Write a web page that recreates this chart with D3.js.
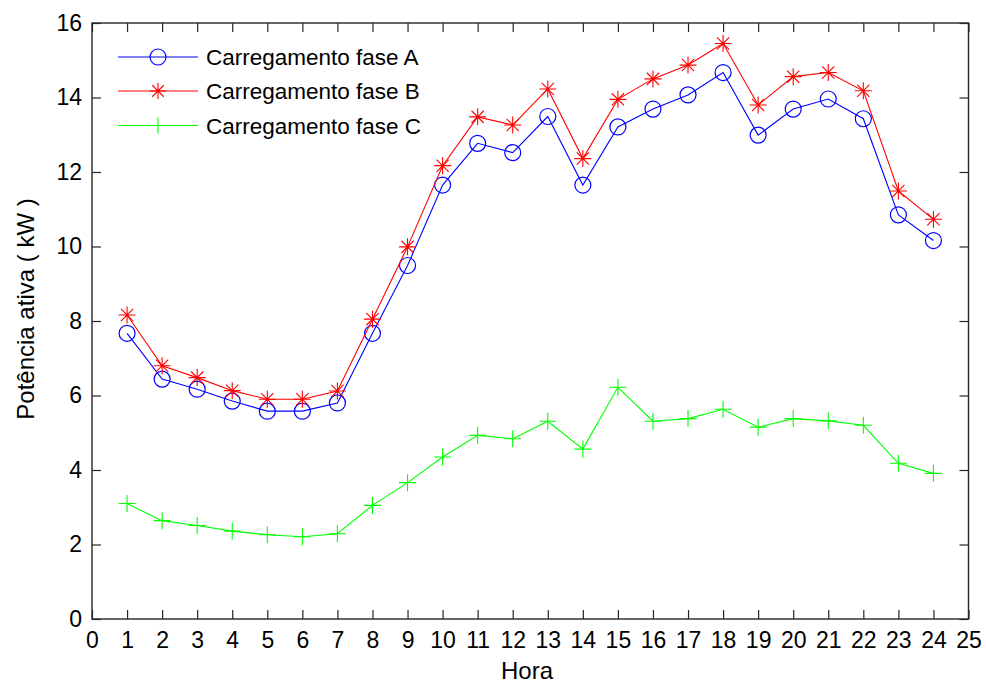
<!DOCTYPE html>
<html>
<head>
<meta charset="utf-8">
<script src="https://cdn.jsdelivr.net/npm/d3@7"></script>
<style>
  html, body { margin: 0; padding: 0; background: #fff; }
  text { font-family: "Liberation Sans", Arial, sans-serif; fill: #000; }
</style>
</head>
<body>
<svg id="chart" width="986" height="684"></svg>
<script>
const hours = [1,2,3,4,5,6,7,8,9,10,11,12,13,14,15,16,17,18,19,20,21,22,23,24];
const faseA = [7.67,6.44,6.17,5.85,5.58,5.58,5.80,7.67,9.49,11.65,12.77,12.52,13.49,11.65,13.21,13.69,14.07,14.67,12.99,13.69,13.96,13.43,10.85,10.16];
const faseB = [8.16,6.80,6.48,6.13,5.90,5.90,6.12,8.05,9.99,12.17,13.48,13.26,14.23,12.36,13.95,14.50,14.87,15.45,13.80,14.56,14.67,14.18,11.49,10.73];
const faseC = [3.10,2.64,2.51,2.36,2.26,2.21,2.29,3.05,3.66,4.35,4.93,4.84,5.31,4.56,6.22,5.31,5.38,5.63,5.15,5.38,5.32,5.20,4.18,3.91];
const xTicks = d3.range(0, 26);
const yTicks = [0,2,4,6,8,10,12,14,16];
const seriesNames = ["Carregamento fase A", "Carregamento fase B", "Carregamento fase C"];
const xLabel = "Hora";
const yLabel = "Potência ativa ( kW )";

const series = [
  { name: seriesNames[0], values: faseA, color: "#0000ff", marker: "circle" },
  { name: seriesNames[1], values: faseB, color: "#ff0000", marker: "star" },
  { name: seriesNames[2], values: faseC, color: "#00ff00", marker: "plus" }
];

const svg = d3.select("#chart");
const L = 92, R = 968.5, T = 23, B = 619;
const x = d3.scaleLinear().domain([0, 25]).range([L, R]);
const y = d3.scaleLinear().domain([0, 16]).range([B, T]);

const line = d3.line().x((d, i) => x(hours[i])).y(d => y(d));
function drawMarker(g, type, cx, cy, color, s) {
  if (type === "circle") {
    g.append("circle").attr("cx", cx).attr("cy", cy).attr("r", s)
      .attr("fill", "none").attr("stroke", color).attr("stroke-width", 1.2);
  } else if (type === "star") {
    const a = s, dd = s * 0.72;
    g.append("path").attr("fill", "none").attr("stroke", color).attr("stroke-width", 1.1)
      .attr("d", `M${cx - a},${cy}H${cx + a}M${cx},${cy - a}V${cy + a}` +
        `M${cx - dd},${cy - dd}L${cx + dd},${cy + dd}M${cx - dd},${cy + dd}L${cx + dd},${cy - dd}`);
  } else {
    g.append("path").attr("fill", "none").attr("stroke", color).attr("stroke-width", 1.1)
      .attr("d", `M${cx - s},${cy}H${cx + s}M${cx},${cy - s}V${cy + s}`);
  }
}

const plot = svg.append("g");
series.forEach(s => {
  plot.append("path").datum(s.values).attr("d", line)
    .attr("fill", "none").attr("stroke", s.color).attr("stroke-width", 1.1);
  const mg = plot.append("g");
  s.values.forEach((v, i) => drawMarker(mg, s.marker, x(hours[i]), y(v), s.color, s.marker === "circle" ? 8 : 8.5));
});

const axisColor = "#262626";
svg.append("rect").attr("x", L).attr("y", T).attr("width", R - L).attr("height", B - T)
  .attr("fill", "none").attr("stroke", axisColor).attr("stroke-width", 1.4);

const tl = 9;
const axB = d3.axisBottom(x).tickValues(xTicks).tickSizeInner(-tl).tickSizeOuter(0).tickPadding(13).tickFormat(d3.format("d"));
const gb = svg.append("g").attr("transform", `translate(0,${B})`).call(axB);
const axT = d3.axisTop(x).tickValues(xTicks).tickSizeInner(-tl).tickSizeOuter(0).tickFormat("");
const gt = svg.append("g").attr("transform", `translate(0,${T})`).call(axT);
const axL = d3.axisLeft(y).tickValues(yTicks).tickSizeInner(-tl).tickSizeOuter(0).tickPadding(10).tickFormat(d3.format("d"));
const gl = svg.append("g").attr("transform", `translate(${L},0)`).call(axL);
const axR = d3.axisRight(y).tickValues(yTicks).tickSizeInner(-tl).tickSizeOuter(0).tickFormat("");
const gr = svg.append("g").attr("transform", `translate(${R},0)`).call(axR);
[gb, gt, gl, gr].forEach(g => {
  g.select(".domain").remove();
  g.selectAll(".tick line").attr("stroke", axisColor).attr("stroke-width", 1.2);
  g.selectAll(".tick text").attr("font-size", 23).attr("font-family", "Liberation Sans, Arial, sans-serif").attr("fill", "#000");
});
gb.selectAll(".tick text").attr("dy", "0.71em");

svg.append("text").attr("x", 527).attr("y", 679).attr("text-anchor", "middle")
  .attr("font-size", 24).text(xLabel);
svg.append("text").attr("transform", "translate(34,309) rotate(-90)").attr("text-anchor", "middle")
  .attr("font-size", 24).text(yLabel);

const lg = svg.append("g");
const rowsY = [57, 91, 125.5];
series.forEach((s, i) => {
  const yy = rowsY[i];
  lg.append("line").attr("x1", 118).attr("x2", 198).attr("y1", yy).attr("y2", yy)
    .attr("stroke", s.color).attr("stroke-width", 1.1);
  drawMarker(lg, s.marker, 158, yy, s.color, 8);
  lg.append("text").attr("x", 206).attr("y", yy).attr("dy", "0.36em")
    .attr("font-size", 22.5).text(s.name);
});
</script>
</body>
</html>
